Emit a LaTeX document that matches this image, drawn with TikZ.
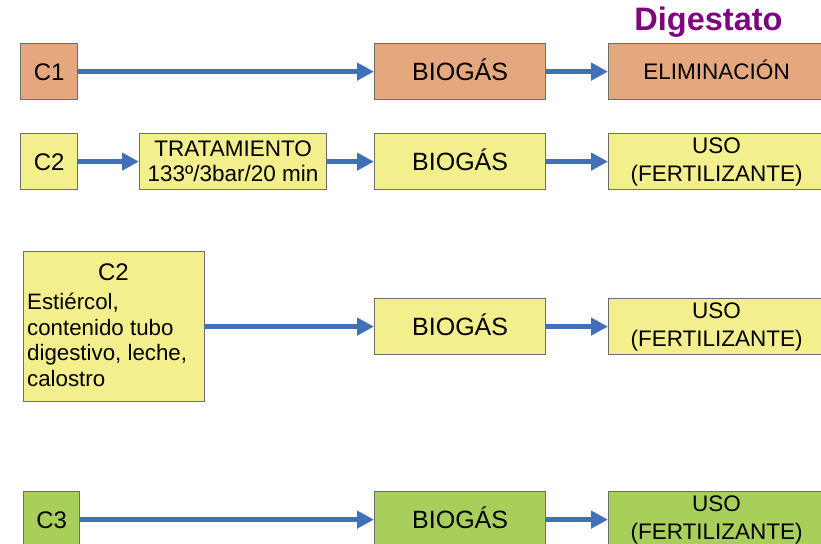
\documentclass[tikz,border=0pt]{standalone}
\usepackage{fontspec}
\setmainfont{Liberation Sans}
\usetikzlibrary{arrows.meta}
\definecolor{orangebox}{HTML}{E5A77D}
\definecolor{yellowbox}{HTML}{F3EF8C}
\definecolor{greenbox}{HTML}{A9CF5B}
\definecolor{boxline}{HTML}{6E6E6E}
\definecolor{arrowblue}{HTML}{4270B8}
\definecolor{digpurple}{HTML}{7E0580}
\tikzset{
  box/.style={draw=boxline, line width=1.2pt, inner sep=0pt, anchor=north west, align=center, text=black},
  bio/.style={box, minimum width=171pt, minimum height=56pt, font=\fontsize{25}{28}\selectfont, text height=18pt, text depth=0pt},
  usobox/.style={box, minimum width=216pt, minimum height=56pt, font=\fontsize{22.5}{28}\selectfont},
  small/.style={box, minimum height=56pt, font=\fontsize{24}{28}\selectfont, text height=17pt, text depth=0pt},
  flow/.style={draw=arrowblue, line width=5pt, -{Triangle[length=17pt,width=17pt]}, shorten <=-1pt},
}
\begin{document}
\begin{tikzpicture}[x=1pt,y=-1pt]
\useasboundingbox (0,0) rectangle (821,543);
% Row 1
\node[small, fill=orangebox, minimum width=57pt] (c1) at (20,43) {C1};
\node[bio, fill=orangebox] (b1) at (374,43) {BIOGÁS};
\node[box, fill=orangebox, minimum width=216pt, minimum height=56pt, font=\fontsize{22.5}{28}\selectfont, text height=16pt, text depth=0pt] (e1) at (608,43) {ELIMINACIÓN};
\node[font=\fontsize{32.5}{36}\selectfont\bfseries, text=digpurple] (dig) at (708.5,22) {Digestato};
% Row 2
\node[small, fill=yellowbox, minimum width=57pt] (c2) at (20,133) {C2};
\node[box, fill=yellowbox, minimum width=187pt, minimum height=56pt, font=\fontsize{22.5}{25}\selectfont] (t2) at (139,133) {TRATAMIENTO\\133º/3bar/20 min};
\node[bio, fill=yellowbox] (b2) at (374,133) {BIOGÁS};
\node[usobox, fill=yellowbox] (u2) at (608,133) {USO\\(FERTILIZANTE)};
% Row 3
\node[box, fill=yellowbox, minimum width=181pt, minimum height=150pt] (c3) at (23,251) {};
\node[font=\fontsize{24}{28}\selectfont, anchor=center] (c3t) at (113.5,272) {C2};
\node[font=\fontsize{22.3}{25.5}\selectfont, align=left, anchor=north west, inner sep=0pt] (c3d) at (27,293) {Estiércol,\\contenido tubo\\digestivo, leche,\\calostro};
\node[bio, fill=yellowbox] (b3) at (374,298) {BIOGÁS};
\node[usobox, fill=yellowbox] (u3) at (608,298) {USO\\(FERTILIZANTE)};
% Row 4
\node[small, fill=greenbox, minimum width=56pt] (c4) at (23,491) {C3};
\node[bio, fill=greenbox] (b4) at (374,491) {BIOGÁS};
\node[usobox, fill=greenbox] (u4) at (608,491) {USO\\(FERTILIZANTE)};
% Arrows
\draw[flow] (c1.east) -- (b1.west);
\draw[flow] (b1.east) -- (e1.west);
\draw[flow] (c2.east) -- (t2.west);
\draw[flow] (t2.east) -- (b2.west);
\draw[flow] (b2.east) -- (u2.west);
\draw[flow] (c3.east) -- (c3.east -| b3.west);
\draw[flow] (b3.east) -- (u3.west);
\draw[flow] (c4.east) -- (b4.west);
\draw[flow] (b4.east) -- (u4.west);
\end{tikzpicture}
\end{document}
